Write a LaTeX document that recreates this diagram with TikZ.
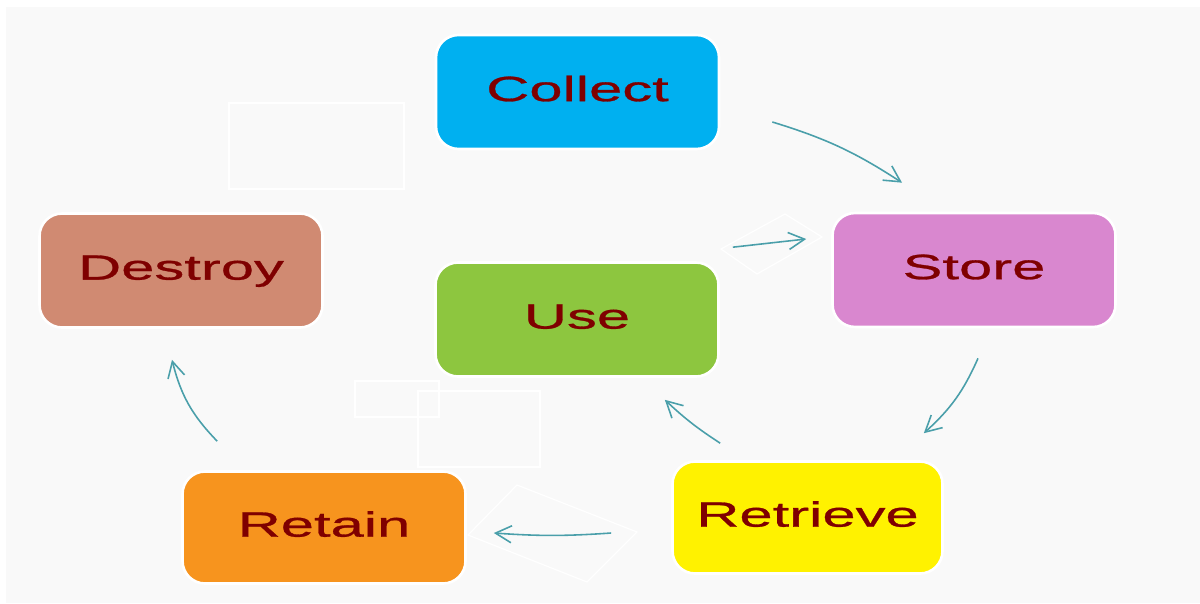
\documentclass[tikz,border=0pt]{standalone}
\usepackage{fontspec}
\newfontfamily\labelfont[FakeStretch=1.7,FakeBold=0.8]{Liberation Sans}
\usetikzlibrary{shapes,arrows.meta,positioning}

\definecolor{bggray}{HTML}{F9F9F9}
\definecolor{collectblue}{HTML}{00B0F0}
\definecolor{storepink}{HTML}{D987CF}
\definecolor{destroybrown}{HTML}{D08A72}
\definecolor{usegreen}{HTML}{8DC63F}
\definecolor{retainorange}{HTML}{F7941E}
\definecolor{labelred}{HTML}{7F0000}
\definecolor{arrowteal}{HTML}{4A9FAA}

\begin{document}
\begin{tikzpicture}[thick]
    \tikzstyle{stage} = [rectangle, draw=white, line width=1.5pt, rounded corners=0.45cm, minimum width=5.66cm, minimum height=2.28cm, text=labelred, font=\labelfont\fontsize{20}{24}\selectfont, text height=14.4pt, text depth=4pt]
    \tikzstyle{arrow} = [-{Straight Barb[length=3.2mm,width=3.4mm]}, line width=0.9pt, draw=arrowteal]
    \tikzstyle{ghost} = [draw=white, line width=0.7pt]

    \useasboundingbox (0,0) rectangle (24,12.06);
    \fill [bggray] (0.12,0) rectangle (24,11.92);

    % faint leftover frames
    \draw [ghost] (4.58,10.0) rectangle (8.08,8.28);
    \draw [ghost] (7.10,4.44) rectangle (8.78,3.72);
    \draw [ghost] (8.36,4.24) rectangle (10.80,2.72);
    \draw [ghost] (14.42,7.08) -- (15.70,7.78) -- (16.44,7.32) -- (15.14,6.58) -- cycle;
    \draw [ghost] (10.34,2.36) -- (12.74,1.42) -- (11.74,0.42) -- (9.36,1.36) -- cycle;

    \node [stage, fill=collectblue] (collect) at (11.55,10.22) {Collect};
    \node [stage, fill=storepink] (store) at (19.48,6.66) {Store};
    \node [stage, fill=destroybrown] (destroy) at (3.62,6.65) {Destroy};
    \node [stage, fill=usegreen] (use) at (11.54,5.67) {Use};
    \node [stage, fill=yellow, minimum width=5.4cm, minimum height=2.24cm] (retrieve) at (16.15,1.71) {Retrieve};
    \node [stage, fill=retainorange, minimum height=2.24cm] (retain) at (6.48,1.51) {Retain};

    \draw [arrow] ([shift={(1.04,-0.60)}]collect.east) to [bend left=8] ([shift={(-1.44,0.58)}]store.north);
    \draw [arrow] ([shift={(0.08,-0.60)}]store.south) to [bend left=12] ([shift={(-0.40,0.54)}]retrieve.north east);
    \draw [arrow] ([shift={(0.98,0.34)}]retrieve.north west) to [bend left=5] ([shift={(-1.10,-0.44)}]use.south east);
    \draw [arrow] ([shift={(-1.20,-0.31)}]retrieve.west) to [bend left=4] ([shift={(0.54,-0.11)}]retain.east);
    \draw [arrow] ([shift={(0.72,0.58)}]retain.north west) to [bend left=15] ([shift={(-0.18,-0.62)}]destroy.south);
    \draw [arrow] ([shift={(0.26,0.28)}]use.north east) -- ([shift={(-0.50,0.62)}]store.west);
\end{tikzpicture}
\end{document}
